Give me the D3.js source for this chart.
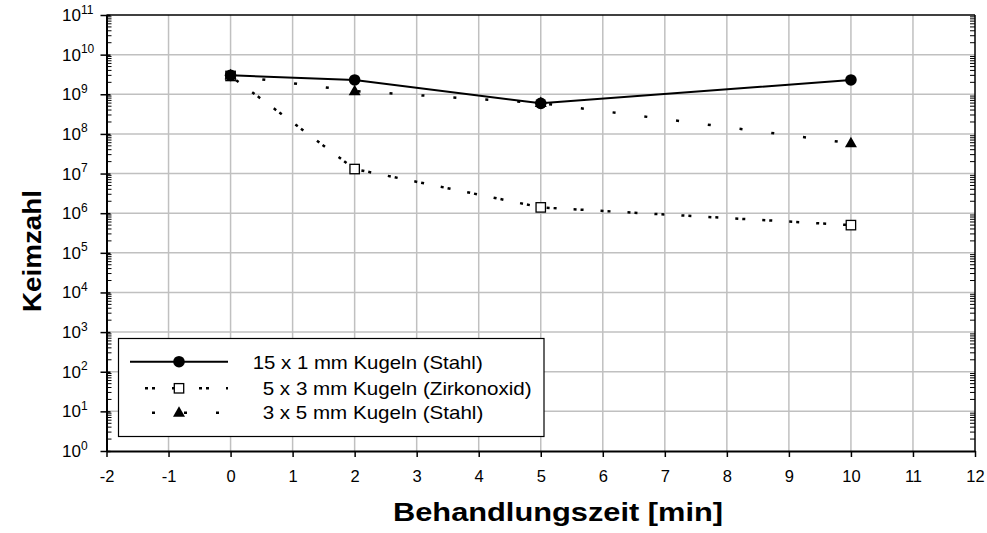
<!DOCTYPE html>
<html><head><meta charset="utf-8">
<script src="https://cdn.jsdelivr.net/npm/d3@7"></script>
<style>
body{margin:0;background:#fff}
text{font-family:"Liberation Sans",Arial,sans-serif;fill:#000}
</style>
</head><body><svg id="c" width="987" height="533"></svg>
<script>
// ---- data ----
const times = [0, 2, 5, 10];
const stahl15x1 = [3.0e9, 2.3e9, 5.9e8, 2.3e9];
const zirkon5x3 = [2.9e9, 1.3e7, 1.4e6, 5.0e5];
const stahl3x5 = [3.0e9, 1.2e9, 6.0e8, 5.8e7];
const seriesNames = ["15 x 1 mm Kugeln (Stahl)", "5 x 3 mm Kugeln (Zirkonoxid)", "3 x 5 mm Kugeln (Stahl)"];
const xTicks = [-2, -1, 0, 1, 2, 3, 4, 5, 6, 7, 8, 9, 10, 11, 12];
const yExponents = [0, 1, 2, 3, 4, 5, 6, 7, 8, 9, 10, 11];
const xTitle = "Behandlungszeit [min]";
const yTitle = "Keimzahl";

// ---- layout ----
const L = 106.5, R = 975, T = 15, B = 451;
const svg = d3.select("#c");
const x = d3.scaleLinear().domain([-2, 12]).range([L, R]);
const y = d3.scaleLog().domain([1, 1e11]).range([B, T]);
const decades = yExponents.map(e => Math.pow(10, e));

// grid
const grid = svg.append("g").attr("stroke", "#c0c0c0").attr("stroke-width", 1.5);
grid.selectAll("line.v").data(xTicks.slice(1, -1)).join("line").attr("class","v")
  .attr("x1", d => x(d)).attr("x2", d => x(d)).attr("y1", T).attr("y2", B);
grid.selectAll("line.h").data(decades.slice(1, -1)).join("line").attr("class","h")
  .attr("x1", L).attr("x2", R).attr("y1", d => y(d)).attr("y2", d => y(d));

// frame top/right
svg.append("line").attr("x1", L).attr("x2", R).attr("y1", T).attr("y2", T).attr("stroke", "#000").attr("stroke-width", 1.5);
svg.append("line").attr("x1", R).attr("x2", R).attr("y1", T).attr("y2", B).attr("stroke", "#000").attr("stroke-width", 1.5);

// minor ticks
const minors = [];
for (let e = 0; e < 11; e++) for (let m = 2; m <= 9; m++) minors.push(m * Math.pow(10, e));
const mg = svg.append("g").attr("stroke", "#000").attr("stroke-width", 1);
mg.selectAll("line.l").data(minors).join("line").attr("class","l")
  .attr("x1", L).attr("x2", L + 5).attr("y1", d => y(d)).attr("y2", d => y(d));
mg.selectAll("line.r").data(minors).join("line").attr("class","r")
  .attr("x1", R - 5).attr("x2", R).attr("y1", d => y(d)).attr("y2", d => y(d));

// y axis
const yAxis = svg.append("g").attr("transform", `translate(${L},0)`)
  .call(d3.axisLeft(y).tickValues(decades).tickSize(6).tickSizeOuter(0).tickFormat(""));
yAxis.select(".domain").attr("stroke-width", 2);
yAxis.selectAll(".tick line").attr("x2", -6).attr("x1", 4).attr("stroke-width", 1.5);

const yl = svg.append("g");
yExponents.forEach(e => {
  const t = yl.append("text").attr("x", 62).attr("y", y(Math.pow(10, e)) + 6).style("font-size", "17px");
  t.append("tspan").text("10");
  t.append("tspan").style("font-size", "12px").attr("dy", -7.5).text(e);
});

// x axis
const xAxis = svg.append("g").attr("transform", `translate(0,${B})`)
  .call(d3.axisBottom(x).tickValues(xTicks).tickSize(6).tickSizeOuter(0).tickFormat(d => String(d)));
xAxis.select(".domain").attr("stroke-width", 2);
xAxis.selectAll(".tick line").attr("stroke-width", 1.5);
xAxis.selectAll(".tick text").style("font-size", "16.5px").style("font-family", "Liberation Sans, Arial, sans-serif")
  .attr("y", 0).attr("dy", 30.5);

// titles
svg.append("text").attr("x", 558).attr("y", 521).attr("text-anchor", "middle")
  .style("font-size", "25px").attr("font-weight", "bold")
  .attr("textLength", 330).attr("lengthAdjust", "spacingAndGlyphs").text(xTitle);
svg.append("text").attr("transform", "translate(41,251) rotate(-90)").attr("text-anchor", "middle")
  .style("font-size", "25px").attr("font-weight", "bold")
  .attr("textLength", 122).attr("lengthAdjust", "spacingAndGlyphs").text(yTitle);

// series
const line = d3.line().x(d => x(d[0])).y(d => y(d[1]));
const styles = [
  {vals: stahl15x1, dash: null, off: 0, marker: "circle"},
  {vals: zirkon5x3, dash: "3,4,3,17", off: 12, marker: "square"},
  {vals: stahl3x5, dash: "3,29", off: 10, marker: "triangle"}
];
function drawMarker(g, kind, cx, cy) {
  if (kind === "circle") g.append("circle").attr("cx", cx).attr("cy", cy).attr("r", 5.8).attr("fill", "#000");
  else if (kind === "square") g.append("rect").attr("x", cx - 4.7).attr("y", cy - 4.7).attr("width", 9.4).attr("height", 9.4)
    .attr("fill", "#fff").attr("stroke", "#000").attr("stroke-width", 1.3);
  else g.append("path").attr("d", `M${cx},${cy - 6.5}L${cx + 6},${cy + 4}L${cx - 6},${cy + 4}Z`).attr("fill", "#000");
}
[2, 1, 0].forEach(i => {
  const s = styles[i];
  const g = svg.append("g");
  const p = g.append("path").datum(times.map((t, j) => [t, s.vals[j]])).attr("d", line)
    .attr("fill", "none").attr("stroke", "#000").attr("stroke-width", i === 0 ? 2 : 2.5);
  if (s.dash) p.attr("stroke-dasharray", s.dash);
  times.forEach((t, j) => drawMarker(g, s.marker, x(t), y(s.vals[j])));
});

// legend
const lg = svg.append("g");
lg.append("rect").attr("x", 118.5).attr("y", 338.5).attr("width", 425.5).attr("height", 98)
  .attr("fill", "#fff").attr("stroke", "#000").attr("stroke-width", 1.2);
const legY = [361.7, 388.3, 412.7];
const legTextX = [252.7, 262.7, 262.7];
const legTextBase = [369, 395, 419.3];
const legTextLen = [230, 269, 220.6];
styles.forEach((s, i) => {
  const ly = legY[i];
  const p = lg.append("line").attr("x1", 130).attr("x2", 228).attr("y1", ly).attr("y2", ly)
    .attr("stroke", "#000").attr("stroke-width", i === 0 ? 2 : 2.5);
  if (s.dash) p.attr("stroke-dasharray", s.dash).attr("stroke-dashoffset", s.off);
  drawMarker(lg, s.marker, 179, ly);
  lg.append("text").attr("x", legTextX[i]).attr("y", legTextBase[i]).style("font-size", "19px")
    .attr("textLength", legTextLen[i]).attr("lengthAdjust", "spacingAndGlyphs").text(seriesNames[i]);
});
</script>
</body></html>
